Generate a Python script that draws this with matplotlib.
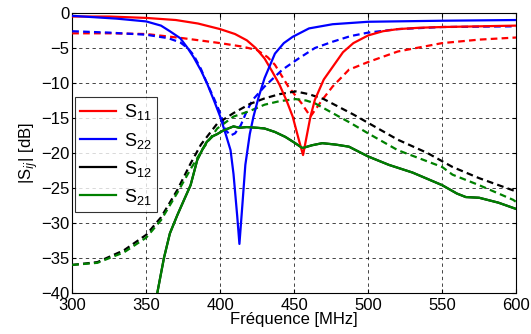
import matplotlib
matplotlib.use("Agg")
import matplotlib.pyplot as plt

plt.rcParams['font.family'] = ['Liberation Sans', 'DejaVu Sans']
plt.rcParams['mathtext.fontset'] = 'custom'
plt.rcParams['mathtext.rm'] = 'Liberation Sans'

# S11 (red)
f_s11 = [300, 325, 350, 370, 385, 400, 410, 418, 424, 430, 435, 440, 445, 449, 453, 456, 459, 461, 464, 470, 476, 483, 490, 500, 510, 520, 535, 550, 575, 600]
s11 = [-0.5, -0.5, -0.7, -1.0, -1.5, -2.3, -3.0, -3.9, -5.0, -6.5, -8.3, -10.2, -12.6, -14.8, -18.0, -20.3, -17.0, -14.8, -12.4, -9.5, -7.7, -5.6, -4.3, -3.2, -2.6, -2.3, -2.1, -2.0, -1.9, -1.8]
f_s11d = [300, 325, 350, 375, 400, 415, 425, 432, 437, 446, 455, 461, 465, 469, 476, 487, 500, 520, 550, 575, 600]
s11_d = [-2.9, -2.9, -3.0, -3.6, -4.3, -4.8, -5.3, -6.3, -7.4, -10.5, -12.9, -14.8, -13.6, -12.4, -10.5, -8.1, -7.0, -5.5, -4.3, -3.8, -3.5]

# S22 (blue)
f_s22 = [300, 330, 350, 360, 366, 373, 378, 382, 387, 391, 396, 400, 404, 407, 409, 411.5, 413, 415, 417, 420, 422.5, 426, 430, 437, 443, 449, 460, 476, 500, 550, 600]
s22 = [-0.4, -0.8, -1.2, -1.8, -2.6, -3.6, -5.0, -6.3, -8.2, -10.0, -12.6, -14.8, -17.5, -19.6, -23.0, -29.0, -33.0, -27.4, -21.7, -17.3, -14.8, -12.0, -9.3, -5.8, -4.3, -3.4, -2.2, -1.6, -1.25, -1.1, -1.0]
f_s22d = [300, 325, 350, 365, 373, 378, 382, 387, 391, 396, 400, 404, 407, 410, 414, 418, 422, 430, 442, 453, 464, 476, 488, 500, 520, 550, 600]
s22_d = [-2.6, -2.8, -3.1, -3.6, -4.2, -5.0, -6.0, -8.0, -10.0, -12.3, -14.3, -16.8, -17.5, -17.2, -16.0, -14.0, -12.4, -10.5, -8.1, -6.5, -5.0, -4.1, -3.3, -2.8, -2.3, -2.0, -1.9]

# S21 (green) and S12 (black)
f_s21 = [357.5, 362, 366, 371, 376, 380, 384.5, 388, 391, 395, 398, 402, 409, 413, 418, 425, 430, 437, 444, 450, 455.6, 462, 469, 478, 487, 500, 514, 530, 550, 560, 566, 575, 588, 600]
s21 = [-40, -35, -31.5, -28.9, -26.5, -24.6, -21.0, -19.5, -18.4, -17.6, -17.3, -16.8, -16.2, -16.4, -16.3, -16.4, -16.5, -17.0, -17.7, -18.5, -19.3, -18.9, -18.6, -18.8, -19.1, -20.5, -21.7, -22.8, -24.6, -25.8, -26.3, -26.4, -27.1, -28.0]
s12 = [-40, -35, -31.5, -28.9, -26.5, -24.6, -21.0, -19.5, -18.4, -17.6, -17.3, -16.8, -16.2, -16.4, -16.3, -16.4, -16.5, -17.0, -17.7, -18.5, -19.3, -18.9, -18.6, -18.8, -19.1, -20.5, -21.7, -22.8, -24.6, -25.8, -26.3, -26.4, -27.1, -28.0]

f_s12d = [300, 317, 335, 350, 360, 371, 380, 387, 398, 409, 420, 430, 440, 451, 460, 470, 480, 490, 500, 520, 540, 557, 575, 600]
s12_d = [-36, -35.6, -33.9, -31.7, -29.2, -25.3, -21.5, -18.8, -15.8, -14.3, -13.0, -12.2, -11.6, -11.2, -11.6, -12.3, -13.4, -14.5, -15.7, -18.1, -20.0, -22.0, -23.6, -25.5]
f_s21d = [300, 317, 335, 350, 360, 371, 380, 388, 398, 409, 420, 430, 440, 451, 458, 464, 476, 488, 500, 520, 535, 550, 557, 575, 598, 600]
s21_d = [-36, -35.7, -34.2, -32.1, -29.6, -25.7, -22.3, -19.5, -16.5, -14.8, -14.0, -13.1, -12.6, -12.3, -12.5, -12.9, -14.3, -15.7, -17.2, -19.6, -20.8, -22.0, -23.1, -24.6, -26.7, -27.0]

xticks = [300, 350, 400, 450, 500, 550, 600]
yticks = [0, -5, -10, -15, -20, -25, -30, -35, -40]

red, blue, black, green = '#ff0000', '#0000ff', '#000000', '#008000'
lw = 1.6
dash = (0, (3.0, 1.9))

fig = plt.figure(figsize=(5.31, 3.34), dpi=100)
ax = fig.add_axes([0.136, 0.123, 0.836, 0.838])

ax.plot(f_s11, s11, color=red, lw=lw, label=r'S$_{11}$', zorder=4)
ax.plot(f_s22, s22, color=blue, lw=lw, label=r'S$_{22}$', zorder=4)
ax.plot(f_s21, s12, color=black, lw=lw, label=r'S$_{12}$', zorder=3)
ax.plot(f_s21, s21, color=green, lw=lw, label=r'S$_{21}$', zorder=4)

ax.plot(f_s11d, s11_d, color=red, lw=lw, ls=dash, zorder=3)
ax.plot(f_s22d, s22_d, color=blue, lw=lw, ls=dash, zorder=3)
ax.plot(f_s12d, s12_d, color=black, lw=lw, ls=dash, zorder=3)
ax.plot(f_s21d, s21_d, color=green, lw=lw, ls=dash, zorder=3)

ax.set_xlim(300, 600)
ax.set_ylim(-40, 0)
ax.set_xticks(xticks)
ax.set_yticks(yticks)
ax.tick_params(direction='in', length=3, labelsize=12, top=True, right=True)
ax.tick_params(axis='x', pad=4)
ax.tick_params(axis='y', pad=2)
ax.grid(True, color='black', ls=(0, (4, 4)), lw=0.6, alpha=0.85)
for s in ax.spines.values():
    s.set_linewidth(0.8)

ax.set_xlabel('Fréquence [MHz]', fontsize=12, labelpad=-1)
ax.set_ylabel(r'|S$_{ij}$| [dB]', fontsize=12, labelpad=1)

leg = ax.legend(loc='upper left', bbox_to_anchor=(0.006, 0.70), borderaxespad=0,
                fontsize=13, frameon=True, fancybox=False, edgecolor='black',
                handlelength=2.0, labelspacing=0.45, borderpad=0.3, handletextpad=0.4)
leg.get_frame().set_linewidth(0.8)

fig.savefig('out.png', dpi=100)
